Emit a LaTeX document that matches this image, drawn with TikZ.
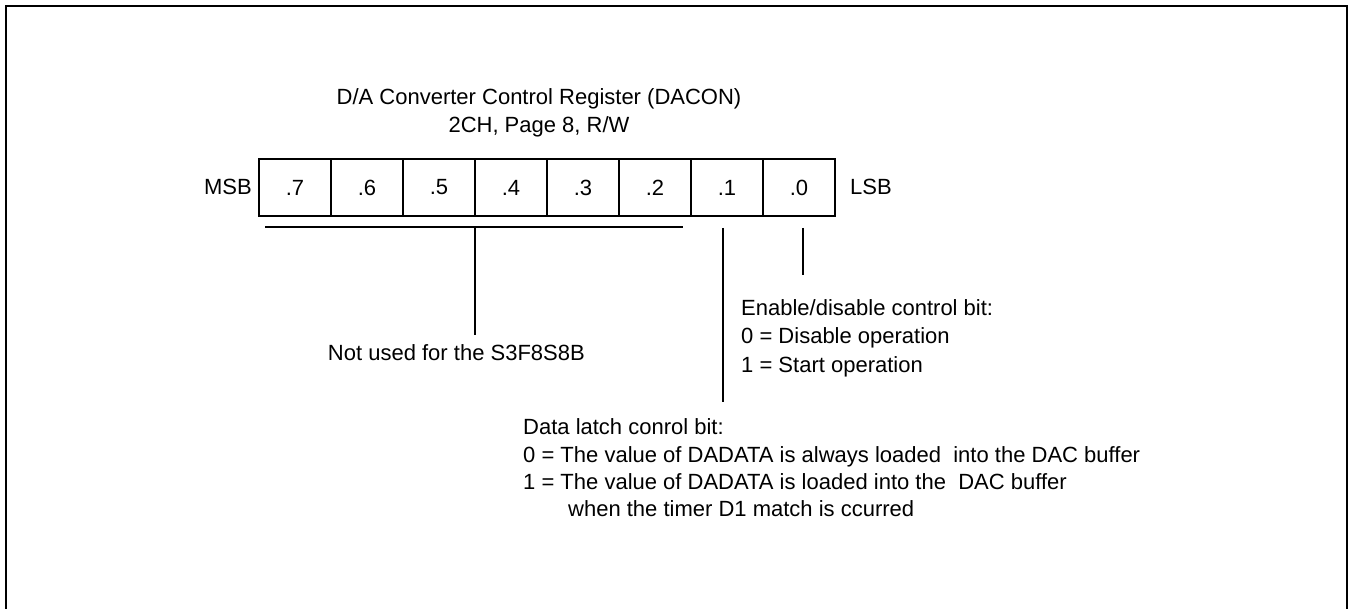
\documentclass[tikz,border=0pt]{standalone}
\usepackage{fontspec}
\setmainfont{Liberation Sans}
\begin{document}
\begin{tikzpicture}[x=1pt,y=-1pt,
  txt/.style={inner sep=0pt, font=\fontsize{22}{26}\selectfont},
  cellbox/.style={draw, line width=1.3pt, minimum width=72pt, minimum height=57pt, inner sep=0pt, font=\fontsize{22}{26}\selectfont},
  conn/.style={line width=1.3pt},
  frameline/.style={line width=2.2pt}]
\useasboundingbox (0,0) rectangle (1354,609);
\draw[frameline] (6,610) -- (6,6) -- (1347,6) -- (1347,610);
% title
\node[txt, anchor=base] (title1) at (539,105) {D/A Converter Control Register (DACON)};
\node[txt, anchor=base] (title2) at (539,133) {2CH, Page 8, R/W};
% register cells
\foreach \i/\lab in {0/.7,1/.6,2/.5,3/.4,4/.3,5/.2,6/.1,7/.0} {
  \node[cellbox] (c\i) at ({259+72*\i+36},187.5) {\lab};
}
\node[txt, anchor=base east] (msb) at (252,195) {MSB};
\node[txt, anchor=base west] (lsb) at (850,195) {LSB};
% not used bracket
\coordinate (u1) at (265,227);
\coordinate (u2) at (683,227);
\coordinate (utop) at (475,227);
\coordinate (ubot) at (475,335);
\draw[conn] (u1) -- (u2);
\draw[conn] (utop) -- (ubot);
\node[txt, anchor=base east] (notused) at (585,360) {Not used for the S3F8S8B};
% bit 0
\coordinate (b0top) at (803,228);
\coordinate (b0bot) at (803,275);
\draw[conn] (b0top) -- (b0bot);
\node[txt, anchor=base west] (en1) at (741,316) {Enable/disable control bit:};
\node[txt, anchor=base west] (en2) at (741,344) {0 = Disable operation};
\node[txt, anchor=base west] (en3) at (741,372) {1 = Start operation};
% bit 1
\coordinate (b1top) at (723,228);
\coordinate (b1bot) at (723,402);
\draw[conn] (b1top) -- (b1bot);
\node[txt, anchor=base west] (dl1) at (523,434) {Data latch conrol bit:};
\node[txt, anchor=base west] (dl2) at (523,462) {0 = The value of DADATA is always loaded\ \ into the DAC buffer};
\node[txt, anchor=base west] (dl3) at (523,489) {1 = The value of DADATA is loaded into the\ \ DAC buffer};
\node[txt, anchor=base west] (dl4) at (568,516) {when the timer D1 match is ccurred};
\end{tikzpicture}
\end{document}
